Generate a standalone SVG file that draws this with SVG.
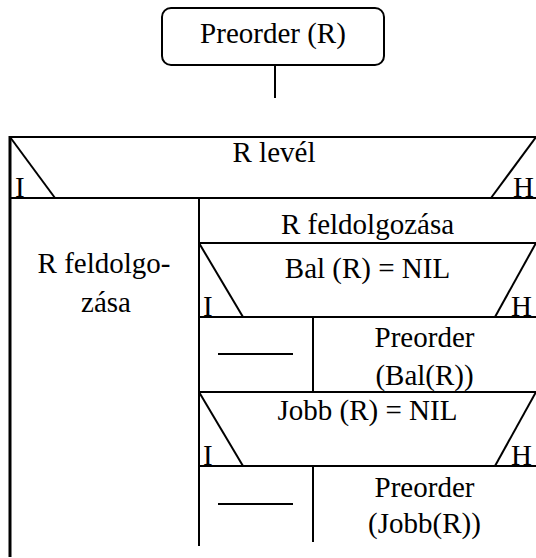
<svg xmlns="http://www.w3.org/2000/svg" width="536" height="558" viewBox="0 0 536 558">
  <style>
    .ln { stroke: #000; stroke-width: 2; fill: none; }
    .edge { stroke-width: 3; }
    .t { font-family: 'Liberation Serif', 'Times New Roman', 'DejaVu Serif', serif; font-size: 29px; fill: #000; }
    .c { text-anchor: middle; }
  </style>
  <rect width="536" height="558" fill="#fff"/>

  <!-- procedure header -->
  <g id="header">
    <rect class="ln" x="162" y="8" width="222" height="57" rx="9"/>
    <text class="t c" x="273" y="43">Preorder (R)</text>
  </g>

  <g id="connectors">
    <line class="ln" x1="275" y1="65" x2="275" y2="98"/>
  </g>

  <!-- outer selection on the leaf test -->
  <g id="cond-leaf">
    <line class="ln" x1="10" y1="137" x2="536" y2="137"/>
    <line class="ln edge" x1="10" y1="136" x2="10" y2="557"/>
    <line class="ln" x1="10" y1="137" x2="55" y2="198"/>
    <line class="ln" x1="536" y1="137" x2="491" y2="198"/>
    <line class="ln" x1="10" y1="198" x2="536" y2="198"/>
    <text class="t c" x="274" y="162">R levél</text>
    <text class="t" x="15" y="197">I</text>
    <text class="t" x="513" y="197">H</text>
  </g>

  <!-- leaf branch -->
  <g id="branch-leaf">
    <line class="ln" x1="199" y1="198" x2="199" y2="546"/>
    <text class="t c" x="104" y="273">R feldolgo-</text>
    <text class="t c" x="106" y="312">zása</text>
  </g>

  <!-- inner node branch -->
  <g id="process-r">
    <text class="t c" x="367.5" y="234">R feldolgozása</text>
    <line class="ln" x1="199" y1="243" x2="536" y2="243"/>
  </g>

  <g id="cond-left">
    <line class="ln" x1="199" y1="243" x2="243" y2="317"/>
    <line class="ln" x1="536" y1="243" x2="495" y2="317"/>
    <line class="ln" x1="199" y1="317" x2="536" y2="317"/>
    <text class="t c" x="367.5" y="278">Bal (R) = NIL</text>
    <text class="t" x="203" y="316">I</text>
    <text class="t" x="511" y="316">H</text>
  </g>

  <g id="left-branches">
    <line class="ln" x1="313" y1="317" x2="313" y2="392"/>
    <line class="ln" x1="218" y1="354" x2="293" y2="354"/>
    <text class="t c" x="424.5" y="347">Preorder</text>
    <text class="t c" x="424.5" y="385">(Bal(R))</text>
    <line class="ln" x1="199" y1="392" x2="536" y2="392"/>
  </g>

  <g id="cond-right">
    <line class="ln" x1="199" y1="392" x2="243" y2="466"/>
    <line class="ln" x1="536" y1="392" x2="495" y2="466"/>
    <line class="ln" x1="199" y1="466" x2="536" y2="466"/>
    <text class="t c" x="367.5" y="420">Jobb (R) = NIL</text>
    <text class="t" x="203" y="465">I</text>
    <text class="t" x="511" y="465">H</text>
  </g>

  <g id="right-branches">
    <line class="ln" x1="313" y1="466" x2="313" y2="542"/>
    <line class="ln" x1="218" y1="504" x2="293" y2="504"/>
    <text class="t c" x="424.5" y="497">Preorder</text>
    <text class="t c" x="424.5" y="533">(Jobb(R))</text>
  </g>
</svg>
